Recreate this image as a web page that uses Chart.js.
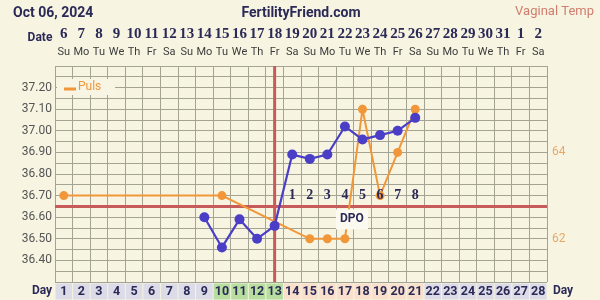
<!DOCTYPE html>
<html><head><meta charset="utf-8">
<script src="https://cdn.jsdelivr.net/npm/chart.js@4/dist/chart.umd.min.js"></script>
<style>html,body{margin:0;padding:0;background:#f7f4e1;}#wrap{width:600px;height:300px;}</style>
</head><body><div id="wrap"><canvas id="c" width="600" height="300"></canvas></div>
<script>
const cycleDays = [1,2,3,4,5,6,7,8,9,10,11,12,13,14,15,16,17,18,19,20,21,22,23,24,25,26,27,28];
const dateLabels = ['6','7','8','9','10','11','12','13','14','15','16','17','18','19','20','21','22','23','24','25','26','27','28','29','30','31','1','2'];
const weekdayLabels = ['Su','Mo','Tu','We','Th','Fr','Sa','Su','Mo','Tu','We','Th','Fr','Sa','Su','Mo','Tu','We','Th','Fr','Sa','Su','Mo','Tu','We','Th','Fr','Sa'];
const temperatures = [null,null,null,null,null,null,null,null,36.60,36.46,36.59,36.50,36.56,36.89,36.87,36.89,37.02,36.96,36.98,37.00,37.06,null,null,null,null,null,null,null];
const pulse = [63,null,null,null,null,null,null,null,null,63,null,null,null,null,62,62,62,65,63,64,65,null,null,null,null,null,null,null];
const dpoLabels = [null,null,null,null,null,null,null,null,null,null,null,null,null,'1','2','3','4','5','6','7','8',null,null,null,null,null,null,null];
const fertileDays = [10,11,12,13];
const lutealDays = [14,15,16,17,18,19,20,21];
const coverline = 36.65;
const ovulationDay = 13;
const dpoLabelDay = 17;
const dpoRowTemp = 36.70;
const dpoBoxTemp = 36.59;
const pulseTicks = [62,64];

const NAVY = '#2b2a57';
const ORANGE = '#f1973a';
const BLUE = '#4a3ec6';
const RED = '#c65b5a';
const GRID = '#a4a494';
const SLAB_DATE = 'bold 15px "Liberation Serif"';
const SLAB_DPO = 'bold 14px "Liberation Serif"';

const decor = {
  id: 'decor',
  beforeDraw(chart) {
    const ctx = chart.ctx;
    ctx.save();
    ctx.fillStyle = '#f7f4e1';
    ctx.fillRect(0, 0, chart.width, chart.height);
    ctx.restore();
  },
  beforeDatasetsDraw(chart) {
    const ctx = chart.ctx, a = chart.chartArea;
    const x = chart.scales.x, y = chart.scales.y;
    ctx.save();
    ctx.strokeStyle = RED;
    ctx.lineWidth = 3;
    const cy = y.getPixelForValue(coverline);
    ctx.beginPath(); ctx.moveTo(a.left, cy); ctx.lineTo(a.right, cy); ctx.stroke();
    const ox = x.getPixelForValue(ovulationDay - 1);
    ctx.beginPath(); ctx.moveTo(ox, a.top); ctx.lineTo(ox, a.bottom); ctx.stroke();
    ctx.restore();
  },
  afterDatasetsDraw(chart) {
    const ctx = chart.ctx, a = chart.chartArea;
    const x = chart.scales.x, y = chart.scales.y;
    ctx.save();
    ctx.fillStyle = NAVY;
    ctx.font = SLAB_DPO;
    ctx.textAlign = 'center';
    ctx.textBaseline = 'middle';
    const ry = y.getPixelForValue(dpoRowTemp);
    dpoLabels.forEach((t, i) => { if (t) ctx.fillText(t, x.getPixelForValue(i), ry); });
    const colW = x.getPixelForValue(1) - x.getPixelForValue(0);
    const bx = x.getPixelForValue(dpoLabelDay - 1) + colW * 0.4;
    const by = y.getPixelForValue(dpoBoxTemp);
    ctx.fillStyle = '#fcfaf0';
    ctx.fillRect(bx - 16, by - 10, 32, 20);
    ctx.fillStyle = NAVY;
    ctx.font = 'bold 12px Roboto';
    ctx.fillText('DPO', bx, by);
    const ds = chart.data.datasets[1];
    ctx.fillStyle = '#f8f5e4';
    ctx.fillRect(a.left + 2, a.top + 13, 58, 16);
    ctx.strokeStyle = ds.borderColor; ctx.lineWidth = 3;
    ctx.beginPath(); ctx.moveTo(a.left + 9, a.top + 23); ctx.lineTo(a.left + 21, a.top + 23); ctx.stroke();
    ctx.fillStyle = ds.borderColor;
    ctx.font = '12px Roboto';
    ctx.textAlign = 'left';
    ctx.fillText(ds.label, a.left + 23, a.top + 21);
    ctx.restore();
  },
  afterDraw(chart) {
    const ctx = chart.ctx, a = chart.chartArea;
    const x = chart.scales.x;
    const colW = x.getPixelForValue(1) - x.getPixelForValue(0);
    ctx.save();
    ctx.textBaseline = 'middle';
    ctx.fillStyle = NAVY;
    ctx.font = 'bold 14px Roboto';
    ctx.textAlign = 'left';
    ctx.fillText('Oct 06, 2024', 13, 13);
    ctx.textAlign = 'center';
    ctx.fillText('FertilityFriend.com', 301, 13);
    ctx.fillStyle = '#cf7d6e';
    ctx.font = '13px Roboto';
    ctx.textAlign = 'right';
    ctx.fillText('Vaginal Temp', 594, 12);
    ctx.fillStyle = NAVY;
    ctx.font = 'bold 12px Roboto';
    ctx.textAlign = 'center';
    ctx.fillText('Date', 40, 38);
    ctx.font = SLAB_DATE;
    dateLabels.forEach((t, i) => ctx.fillText(t, x.getPixelForValue(i), 34));
    ctx.fillStyle = '#3c3c3c';
    ctx.font = '11px Roboto';
    weekdayLabels.forEach((t, i) => ctx.fillText(t, x.getPixelForValue(i), 52));
    cycleDays.forEach((d, i) => {
      const cx = x.getPixelForValue(i);
      let bg = '#dcdbe8';
      if (fertileDays.includes(d)) bg = '#b7de9f';
      else if (lutealDays.includes(d)) bg = '#f8e0cd';
      ctx.fillStyle = bg;
      ctx.fillRect(cx - colW / 2 + 0.5, a.bottom + 1.5, colW - 1, 16);
      ctx.fillStyle = NAVY;
      ctx.font = 'bold 12.5px Roboto';
      ctx.fillText(String(d), cx, a.bottom + 10);
    });
    ctx.font = 'bold 12px Roboto';
    ctx.fillText('Day', 42, a.bottom + 9);
    ctx.fillText('Day', 563, a.bottom + 9);
    ctx.restore();
  }
};

new Chart(document.getElementById('c'), {
  type: 'line',
  data: {
    labels: cycleDays.map(String),
    datasets: [
      { label: 'Temp', data: temperatures, yAxisID: 'y', borderColor: BLUE, backgroundColor: BLUE,
        pointBackgroundColor: BLUE, pointBorderWidth: 0, pointRadius: 5, borderWidth: 2.2, spanGaps: false },
      { label: 'Puls', data: pulse, yAxisID: 'y1', borderColor: ORANGE, backgroundColor: ORANGE,
        pointBackgroundColor: ORANGE, pointBorderWidth: 0, pointRadius: 4.5, borderWidth: 2, spanGaps: true }
    ]
  },
  options: {
    responsive: false,
    animation: false,
    layout: { padding: { top: 66, bottom: 18, left: 0, right: 0 } },
    plugins: { legend: { display: false }, tooltip: { enabled: false } },
    scales: {
      x: {
        type: 'category', offset: true,
        grid: { offset: true, color: GRID, lineWidth: 1, drawTicks: false },
        ticks: { display: false },
        border: { display: false },
        afterFit(s) { s.height = 0; }
      },
      y: {
        type: 'linear', position: 'left', min: 36.3, max: 37.3,
        ticks: { stepSize: 0.05, autoSkip: false, maxTicksLimit: 100, padding: 3, color: '#555', font: { family: 'Roboto', size: 12 },
          callback: v => { const r = Math.round(v * 100); return (r % 10 === 0 && r > 3630 && r < 3730) ? (r / 100).toFixed(2) : ''; } },
        grid: { color: GRID, lineWidth: 1, drawTicks: false },
        border: { display: false },
        afterFit(s) { s.width = 55; }
      },
      y1: {
        type: 'linear', position: 'right', min: 61, max: 66,
        ticks: { stepSize: 1, autoSkip: false, padding: 5, color: '#e9a868', font: { family: 'Roboto', size: 12 },
          callback: v => pulseTicks.includes(v) ? String(v) : '' },
        grid: { display: false, drawTicks: false },
        border: { display: false },
        afterFit(s) { s.width = 53; }
      }
    }
  },
  plugins: [decor]
});
</script>
</body></html>
